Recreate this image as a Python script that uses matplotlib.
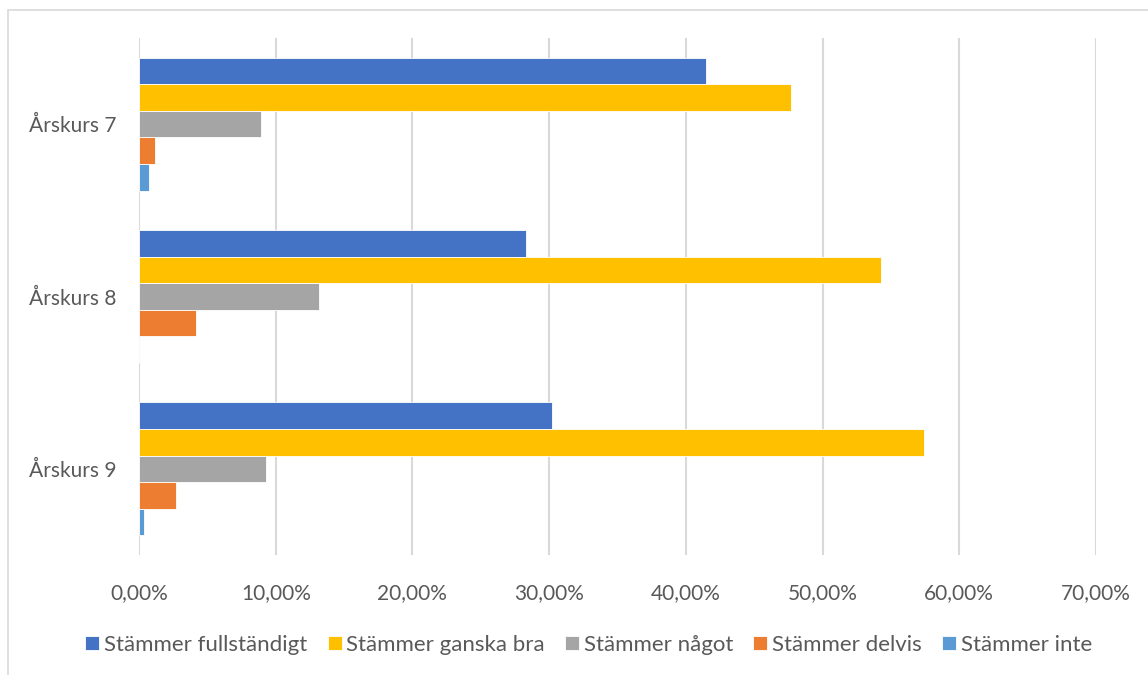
import numpy as np
import matplotlib
matplotlib.use("Agg")
import matplotlib.pyplot as plt
from matplotlib.patches import Rectangle
from matplotlib.ticker import FuncFormatter

# data (share of answers, %)
categories = ["Årskurs 7", "Årskurs 8", "Årskurs 9"]
series = ["Stämmer fullständigt", "Stämmer ganska bra", "Stämmer något",
          "Stämmer delvis", "Stämmer inte"]
fullstandigt = [41.5, 28.3, 30.2]
ganska_bra   = [47.7, 54.3, 57.4]
nagot        = [8.9, 13.2, 9.3]
delvis       = [1.2, 4.2, 2.7]
inte         = [0.7, 0.0, 0.4]
values = [fullstandigt, ganska_bra, nagot, delvis, inte]
colors = ["#4472C4", "#FFC000", "#A5A5A5", "#ED7D31", "#5B9BD5"]

txt = "#595959"
plt.rcParams['font.family'] = ['Lato', 'DejaVu Sans']

fig = plt.figure(figsize=(11.48, 6.75), dpi=100)
# light chart border (partly cut off like the original)
fig.patches.append(Rectangle((8 / 1148, -0.05), 1.2, 1 - 10 / 675 + 0.05,
                             transform=fig.transFigure, fill=False,
                             edgecolor="#D9D9D9", linewidth=1.2))

ax = fig.add_axes([139 / 1148, 1 - 555 / 675, (1096 - 139) / 1148, (555 - 38) / 675])

h = 0.154
y = np.arange(len(categories))
for k, (name, vals, c) in enumerate(zip(series, values, colors)):
    off = (k - 2) * h
    ax.barh(y + off, vals, height=h, color=c, edgecolor="white",
            linewidth=0.6, label=name, zorder=3)

ax.set_xlim(0, 70)
ax.set_ylim(2.5, -0.5)
ax.set_xticks(np.arange(0, 71, 10))
ax.xaxis.set_major_formatter(FuncFormatter(lambda v, p: f"{v:.2f}".replace(".", ",") + "%"))
ax.set_yticks(y)
ax.set_yticklabels(categories)
ax.grid(axis="x", color="#D9D9D9", linewidth=1.5, zorder=0)
for s in ax.spines.values():
    s.set_visible(False)
ax.tick_params(axis="both", length=0, labelsize=15, colors=txt)
ax.tick_params(axis="x", pad=20)
ax.tick_params(axis="y", pad=16)

ax.legend(loc="center", bbox_to_anchor=(0.470, -0.174), ncol=5, frameon=False,
          fontsize=16, labelcolor=txt, handlelength=0.63, handleheight=0.63,
          handletextpad=0.22, columnspacing=0.9)

plt.savefig("out.png", format="png")
